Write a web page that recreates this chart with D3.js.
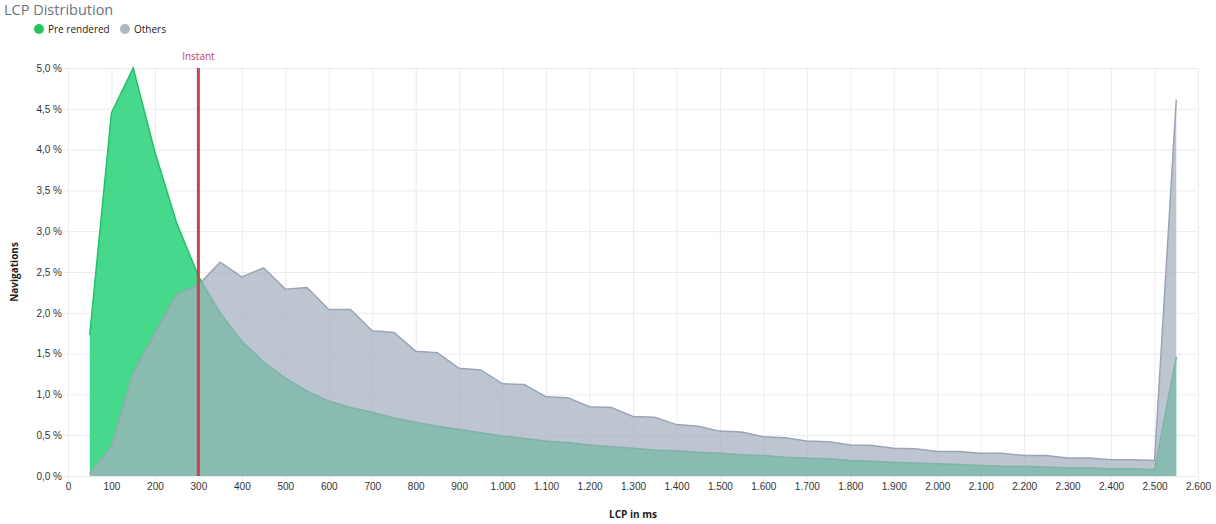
<!DOCTYPE html>
<html>
<head>
<meta charset="utf-8">
<script src="https://cdn.jsdelivr.net/npm/d3@7"></script>
<style>
  body { margin: 0; background: #fff; font-family: "Open Sans", sans-serif; }
  .grid line { stroke: #ebebef; }
  .tick text { fill: #333; font-size: 10px; }
</style>
</head>
<body>
<div id="chart"></div>
<script>
// LCP bucket (ms)
const lcpMs = [50, 100, 150, 200, 250, 300, 350, 400, 450, 500,
  550, 600, 650, 700, 750, 800, 850, 900, 950, 1000,
  1050, 1100, 1150, 1200, 1250, 1300, 1350, 1400, 1450, 1500,
  1550, 1600, 1650, 1700, 1750, 1800, 1850, 1900, 1950, 2000,
  2050, 2100, 2150, 2200, 2250, 2300, 2350, 2400, 2450, 2500, 2550]

// share of navigations in %
const preRendered = [1.73, 4.45, 5.0, 3.97, 3.1, 2.45, 2.0, 1.65, 1.4, 1.2,
  1.04, 0.92, 0.84, 0.78, 0.71, 0.66, 0.61, 0.57, 0.53, 0.49,
  0.46, 0.43, 0.41, 0.38, 0.36, 0.34, 0.32, 0.31, 0.29, 0.28,
  0.26, 0.25, 0.23, 0.22, 0.21, 0.19, 0.18, 0.17, 0.16, 0.15,
  0.14, 0.13, 0.12, 0.12, 0.11, 0.10, 0.10, 0.09, 0.09, 0.08, 1.46]

const others = [0.03, 0.36, 1.26, 1.75, 2.22, 2.34, 2.62, 2.44, 2.55, 2.29,
  2.31, 2.04, 2.04, 1.78, 1.76, 1.53, 1.51, 1.32, 1.30, 1.13,
  1.12, 0.97, 0.96, 0.85, 0.84, 0.73, 0.72, 0.63, 0.61, 0.55,
  0.54, 0.48, 0.47, 0.43, 0.42, 0.38, 0.375, 0.34, 0.335, 0.30,
  0.30, 0.28, 0.28, 0.25, 0.25, 0.22, 0.22, 0.20, 0.20, 0.19, 4.61]

const xTicks = [0, 100, 200, 300, 400, 500, 600, 700, 800, 900, 1000, 1100, 1200,
  1300, 1400, 1500, 1600, 1700, 1800, 1900, 2000, 2100, 2200, 2300, 2400, 2500, 2600]
const yTicks = [0, 0.5, 1, 1.5, 2, 2.5, 3, 3.5, 4, 4.5, 5]
const instantMs = 300

const width = 1216, height = 524
const margin = {top: 68, right: 18, bottom: 48, left: 68}

const svg = d3.select("#chart").append("svg")
  .attr("width", width)
  .attr("height", height)

const x = d3.scaleLinear().domain([0, 2600]).range([margin.left, width - margin.right])
const y = d3.scaleLinear().domain([0, 5]).range([height - margin.bottom, margin.top])

// number formats: "1.000" and "2,5 %"
const fmtX = d => d3.format(",")(d).replace(/,/g, ".")
const fmtY = d => d3.format(".1f")(d).replace(".", ",") + " %"

// grid
svg.append("g").attr("class", "grid")
  .attr("transform", `translate(0,${y(0)})`)
  .call(d3.axisBottom(x).tickValues(xTicks).tickSize(-(y(0) - y(5)) - 5).tickFormat(""))
  .attr("transform", `translate(0,${y(0) + 5})`)
  .call(g => g.select(".domain").remove())
svg.append("g").attr("class", "grid")
  .attr("transform", `translate(${x(0) - 5},0)`)
  .call(d3.axisLeft(y).tickValues(yTicks).tickSize(-(x(2600) - x(0)) - 5).tickFormat(""))
  .call(g => g.select(".domain").remove())

// axes (labels only)
svg.append("g")
  .attr("transform", `translate(0,${y(0)})`)
  .call(d3.axisBottom(x).tickValues(xTicks).tickSize(0).tickPadding(7).tickFormat(fmtX))
  .call(g => g.select(".domain").remove())
svg.append("g")
  .attr("transform", `translate(${x(0) - 6},0)`)
  .call(d3.axisLeft(y).tickValues(yTicks).tickSize(0).tickPadding(0).tickFormat(fmtY))
  .call(g => g.select(".domain").remove())

const area = d3.area().x(d => x(d[0])).y0(y(0)).y1(d => y(d[1]))
const line = d3.line().x(d => x(d[0])).y(d => y(d[1]))

const greenData = lcpMs.map((m, i) => [m, preRendered[i]])
const grayData = lcpMs.map((m, i) => [m, others[i]])

svg.append("path").datum(greenData)
  .attr("d", area)
  .attr("fill", "#47d98b")
svg.append("path").datum(greenData)
  .attr("d", line)
  .attr("fill", "none")
  .attr("stroke", "#22c06a")
  .attr("stroke-width", 1.5)

svg.append("path").datum(grayData)
  .attr("d", area)
  .attr("fill", "#a3aebf")
  .attr("fill-opacity", 0.72)
svg.append("path").datum(grayData)
  .attr("d", line)
  .attr("fill", "none")
  .attr("stroke", "#9ca5b4")
  .attr("stroke-width", 1.5)

// instant marker
svg.append("line")
  .attr("x1", x(instantMs)).attr("x2", x(instantMs))
  .attr("y1", y(5)).attr("y2", y(0))
  .attr("stroke", "#c5444f")
  .attr("stroke-width", 3)
svg.append("text")
  .attr("x", x(instantMs)).attr("y", y(5) - 8)
  .attr("text-anchor", "middle")
  .attr("fill", "#c0435a")
  .style("font-size", "10px")
  .text("Instant")

// axis titles
svg.append("text")
  .attr("transform", `translate(18,${(y(0) + y(5)) / 2}) rotate(-90)`)
  .attr("text-anchor", "middle")
  .style("font-size", "10px").style("font-weight", "bold")
  .attr("fill", "#222")
  .text("Navigations")
svg.append("text")
  .attr("x", (x(0) + x(2600)) / 2).attr("y", 518)
  .attr("text-anchor", "middle")
  .style("font-size", "10px").style("font-weight", "bold")
  .attr("fill", "#222")
  .text("LCP in ms")

// title + legend
svg.append("text")
  .attr("x", 4).attr("y", 15)
  .attr("fill", "#6b7280")
  .style("font-size", "14.5px")
  .text("LCP Distribution")

const legend = [{label: "Pre rendered", color: "#22c55e", x: 39}, {label: "Others", color: "#b2b6c1", x: 125}]
legend.forEach(l => {
  svg.append("circle").attr("cx", l.x).attr("cy", 29).attr("r", 5).attr("fill", l.color)
  svg.append("text").attr("x", l.x + 9).attr("y", 33)
    .style("font-size", "10px").attr("fill", "#222")
    .text(l.label)
})
</script>
</body>
</html>
